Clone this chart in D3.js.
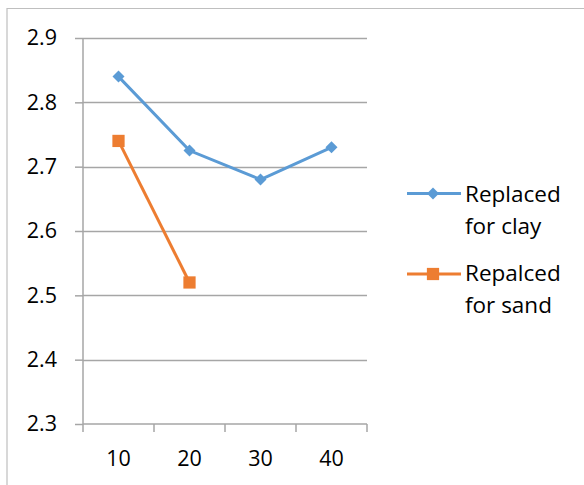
<!DOCTYPE html>
<html><head><meta charset="utf-8">
<script src="https://cdn.jsdelivr.net/npm/d3@7"></script>
<style>body{margin:0;background:#fff}svg{display:block}text{font-family:"Open Sans","Noto Sans",sans-serif;fill:#000}</style>
</head><body><svg id="c" width="584" height="485"></svg>
<script>
const categories = ["10","20","30","40"];
const clayValues = [2.84, 2.725, 2.68, 2.73];
const sandValues = [2.74, 2.52];
const yTicks = [2.3,2.4,2.5,2.6,2.7,2.8,2.9];
const seriesNames = [["Replaced","for clay"],["Repalced","for sand"]];
const colors = ["#5B9BD5","#ED7D31"];

(function(){
const svg = d3.select("#c");
const pl = 83, pr = 367, pt = 38, pb = 424;
const x = d3.scaleBand().domain(categories).range([pl, pr]);
const y = d3.scaleLinear().domain([2.3, 2.9]).range([pb, pt]);
const FONT = "'Open Sans','Noto Sans',sans-serif";

// outer border (top & left)
svg.append("path").attr("d","M7,485 V8.5 H584").attr("fill","none").attr("stroke","#BFBFBF").attr("stroke-width",1.2);

// gridlines
svg.append("g").selectAll("line").data(yTicks.slice(1)).join("line")
  .attr("x1", pl).attr("x2", pr).attr("y1", d=>Math.round(y(d))+0.5).attr("y2", d=>Math.round(y(d))+0.5)
  .attr("stroke","#A6A6A6").attr("stroke-width",1.5);

// y axis
const yAxis = d3.axisLeft(y).tickValues(yTicks).tickSize(8).tickPadding(18).tickFormat(d3.format(".1f"));
const gy = svg.append("g").attr("transform",`translate(${pl},0)`).call(yAxis);
gy.select(".domain").attr("stroke","#A6A6A6").attr("stroke-width",1.5).attr("d",`M0,${pt}V${pb}`);
gy.selectAll(".tick line").attr("stroke","#A6A6A6").attr("stroke-width",1.5);
gy.selectAll("text").attr("font-size",21.5).style("font-family",FONT).attr("fill","#000");

// x axis
const xAxis = d3.axisBottom(x).tickSize(0).tickPadding(27);
const gx = svg.append("g").attr("transform",`translate(0,${pb})`).call(xAxis);
gx.select(".domain").attr("stroke","#A6A6A6").attr("stroke-width",1.5).attr("d",`M${pl},0H${pr}`);
gx.selectAll("text").attr("font-size",21.5).style("font-family",FONT).attr("fill","#000");
// category boundary ticks
const bounds = categories.map(c=>x(c)).concat([pr]);
svg.append("g").selectAll("line").data(bounds).join("line")
  .attr("x1",d=>d).attr("x2",d=>d).attr("y1",pb).attr("y2",pb+8)
  .attr("stroke","#A6A6A6").attr("stroke-width",1.5);

const cx = c => x(c) + x.bandwidth()/2;
const line = d3.line().x(d=>cx(d[0])).y(d=>y(d[1]));
const clay = categories.map((c,i)=>[c, clayValues[i]]);
const sand = sandValues.map((v,i)=>[categories[i], v]);

svg.append("path").datum(clay).attr("d",line).attr("fill","none").attr("stroke",colors[0]).attr("stroke-width",3);
svg.append("path").datum(sand).attr("d",line).attr("fill","none").attr("stroke",colors[1]).attr("stroke-width",3);

const diamond = d3.symbol().type(d3.symbolSquare).size(72);
svg.append("g").selectAll("path").data(clay).join("path")
  .attr("d",diamond).attr("transform",d=>`translate(${cx(d[0])},${y(d[1])}) rotate(45)`).attr("fill",colors[0]);
const sq = d3.symbol().type(d3.symbolSquare).size(150);
svg.append("g").selectAll("path").data(sand).join("path")
  .attr("d",sq).attr("transform",d=>`translate(${cx(d[0])},${y(d[1])})`).attr("fill",colors[1]);

// legend
const legY = [193.5, 274];
const legBase = [201.7, 281];
seriesNames.forEach((nm,i)=>{
  const g = svg.append("g");
  g.append("line").attr("x1",407).attr("x2",461).attr("y1",legY[i]).attr("y2",legY[i]).attr("stroke",colors[i]).attr("stroke-width",3);
  if(i===0) g.append("path").attr("d",diamond).attr("transform",`translate(433,${legY[i]}) rotate(45)`).attr("fill",colors[i]);
  else g.append("path").attr("d",sq).attr("transform",`translate(433,${legY[i]})`).attr("fill",colors[i]);
  nm.forEach((t,j)=>{
    g.append("text").attr("x",465).attr("y",legBase[i]+j*31.8).attr("font-size",22.5).text(t);
  });
});
})();
</script></body></html>
